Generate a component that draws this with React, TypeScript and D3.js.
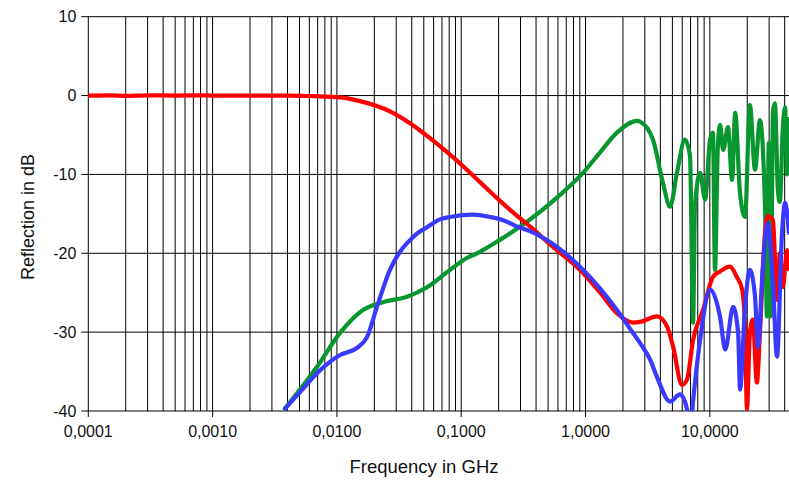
import { useEffect, useRef } from "react";
import * as d3 from "d3";

// Reflection vs frequency, three measured traces on a log frequency axis

const xTickValues = [1e-4, 1e-3, 1e-2, 1e-1, 1, 10];
const xTickLabels = ["0,0001", "0,0010", "0,0100", "0,1000", "1,0000", "10,0000"];
const yTickValues = [10, 0, -10, -20, -30, -40];

// red trace
const redFreq = [
    0.0001, 0.00015, 0.0002, 0.0003, 0.0005, 0.0008, 0.001, 0.002, 0.0042, 0.0101,
    0.0162, 0.0267, 0.0387, 0.0561, 0.0813, 0.111, 0.171, 0.247, 0.357, 0.548,
    0.955, 1.31, 1.79, 2.41, 2.75, 3.76, 4.53, 5.06, 5.97, 6.56,
    7.33, 8.81, 10.6, 12.1, 14.5, 16.5, 18.2, 19.2, 19.9, 21.0,
    22.2, 23.9, 25.3, 27.8, 29.3, 32.2, 34.7, 36.6, 38.7, 41.8, 43.3,
];
const redDb = [
    0, 0.03, -0.03, 0.03, 0, 0.03, 0, 0, 0, -0.2,
    -0.8, -2.0, -3.5, -5.4, -7.5, -9.4, -12.2, -14.5, -16.6, -19.2,
    -22.5, -25.0, -27.6, -28.8, -28.7, -28.0, -29.3, -31.8, -36.7, -36.0,
    -31.0, -27.2, -23.0, -22.3, -21.7, -23.0, -24.6, -29.3, -39.8, -30.1,
    -28.4, -36.4, -30.1, -17.4, -15.3, -15.8, -25.9, -20.0, -24.3, -19.6, -22.0,
];

// blue trace
const blueFreq = [
    0.00382, 0.00505, 0.00692, 0.0106, 0.0145, 0.0175, 0.021, 0.0267, 0.0322, 0.0367,
    0.0441, 0.0531, 0.0674, 0.0813, 0.1245, 0.171, 0.217, 0.281, 0.357, 0.59,
    0.955, 1.79, 2.41, 2.75, 3.31, 3.76, 4.79, 5.76, 6.56, 6.93,
    7.33, 8.35, 10.05, 12.1, 13.3, 15.4, 16.9, 17.5, 19.2, 21.0,
    23.1, 24.4, 26.7, 29.3, 32.2, 34.7, 38.1, 40.3, 43.3,
];
const blueDb = [
    -39.7, -37.6, -35.2, -32.9, -32.0, -30.6, -26.8, -22.1, -19.8, -18.7,
    -17.5, -16.7, -15.7, -15.4, -15.1, -15.4, -15.8, -16.6, -17.2, -19.2,
    -22.1, -27.2, -30.1, -31.4, -33.5, -35.7, -38.8, -37.9, -39.8, -43.0,
    -38.8, -31.0, -24.6, -28.1, -32.2, -26.8, -30.1, -37.3, -26.8, -22.1,
    -25.5, -31.9, -21.7, -16.2, -23.8, -33.1, -17.4, -13.6, -17.4,
];

// green trace
const greenFreq = [
    0.00382, 0.00692, 0.0106, 0.0162, 0.0235, 0.0367, 0.0531, 0.0813, 0.111, 0.134,
    0.2, 0.281, 0.624, 0.955, 1.31, 1.79, 2.6, 2.75, 3.49, 4.2,
    4.79, 5.44, 6.31, 6.93, 7.33, 7.6, 8.35, 9.16, 10.05, 10.6,
    11.0, 11.6, 12.1, 12.8, 14.0, 15.1, 16.0, 17.5, 19.2, 21.0,
    23.1, 25.3, 27.8, 28.8, 29.8, 31.0, 32.2, 33.4, 35.3, 36.6,
    38.7, 40.3, 41.8, 43.3,
];
const greenDb = [
    -39.7, -34.4, -30.1, -27.2, -26.2, -25.5, -24.3, -22.1, -20.6, -20.0,
    -18.4, -16.9, -12.6, -9.8, -7.2, -4.7, -3.2, -3.3, -5.6, -11.1,
    -14.1, -9.8, -5.6, -7.7, -28.8, -14.0, -9.8, -13.2, -5.6, -4.7,
    -22.1, -6.5, -3.7, -6.9, -4.0, -10.7, -2.2, -12.4, -15.4, -1.2,
    -9.4, -3.1, -14.1, -28.0, -6.0, -28.0, -2.0, -1.0, -12.0, -13.5,
    -4.0, -1.5, -10.0, -3.0,
];

const series = [
    { freq: greenFreq, db: greenDb, color: "#08962f" },
    { freq: redFreq, db: redDb, color: "#ff0000" },
    { freq: blueFreq, db: blueDb, color: "#3a3aff" },
];

export default function App() {
    const svgRef = useRef<SVGSVGElement>(null);
    const width = 789;
    const height = 482;
    const margin = { top: 16.7, right: 0, bottom: 71, left: 88.3 };

    useEffect(() => {
        const svg = d3.select(svgRef.current);
        svg.selectAll("*").remove();
        const innerWidth = width - margin.left - margin.right;
        const innerHeight = height - margin.top - margin.bottom;
        const font = "'Liberation Sans', Arial, sans-serif";

        const x = d3.scaleLog().domain([1e-4, 43.35]).range([0, innerWidth]);
        const y = d3.scaleLinear().domain([-40, 10]).range([innerHeight, 0]);

        const g = svg.append("g").attr("transform", `translate(${margin.left},${margin.top})`);

        svg.append("defs").append("clipPath").attr("id", "plot-clip")
            .append("rect").attr("x", 0).attr("y", 0).attr("width", innerWidth).attr("height", innerHeight);

        // vertical grid: 1..9 of every decade
        const minor: number[] = [];
        for (let e = -4; e <= 1; e++) {
            for (let m = 1; m <= 9; m++) {
                const v = m * Math.pow(10, e);
                if (v <= 43.35) minor.push(v);
            }
        }
        g.append("g").selectAll("line").data(minor).enter().append("line")
            .attr("x1", d => x(d)).attr("x2", d => x(d))
            .attr("y1", 0)
            .attr("y2", d => xTickValues.includes(d) ? innerHeight + 6 : innerHeight)
            .attr("stroke", "#000").attr("stroke-width", 1);

        // horizontal grid
        g.append("g").selectAll("line").data(yTickValues).enter().append("line")
            .attr("x1", -7).attr("x2", innerWidth)
            .attr("y1", d => y(d)).attr("y2", d => y(d))
            .attr("stroke", "#000").attr("stroke-width", 1);

        // y tick labels
        g.append("g").selectAll("text").data(yTickValues).enter().append("text")
            .attr("x", -12).attr("y", d => y(d)).attr("dy", "0.35em")
            .attr("text-anchor", "end")
            .attr("font-family", font).attr("font-size", 16).attr("fill", "#111")
            .text(d => String(d));

        // x tick labels
        g.append("g").selectAll("text").data(xTickValues).enter().append("text")
            .attr("x", d => x(d)).attr("y", innerHeight + 26)
            .attr("text-anchor", "middle")
            .attr("font-family", font).attr("font-size", 16).attr("fill", "#111")
            .text((_, i) => xTickLabels[i]);

        // traces
        const line = d3.line<[number, number]>()
            .x(d => x(d[0]))
            .y(d => y(d[1]))
            .curve(d3.curveMonotoneX);

        const traces = g.append("g").attr("clip-path", "url(#plot-clip)");
        series.forEach(s => {
            const pts = s.freq.map((f, i) => [f, s.db[i]] as [number, number]);
            traces.append("path")
                .attr("d", line(pts))
                .attr("fill", "none")
                .attr("stroke", s.color)
                .attr("stroke-width", 4.2)
                .attr("stroke-linejoin", "round")
                .attr("stroke-linecap", "round");
        });

        // axis titles
        svg.append("text")
            .attr("x", 424).attr("y", 473)
            .attr("text-anchor", "middle")
            .attr("font-family", font).attr("font-size", 18.5).attr("fill", "#111")
            .text("Frequency in GHz");

        svg.append("text")
            .attr("transform", `translate(34,217) rotate(-90)`)
            .attr("text-anchor", "middle")
            .attr("font-family", font).attr("font-size", 18).attr("fill", "#111")
            .text("Reflection in dB");
    }, []);

    return (
        <svg
            ref={svgRef}
            width={width}
            height={height}
            style={{ position: "absolute", left: 0, top: 0, background: "#fff" }}
        />
    );
}
